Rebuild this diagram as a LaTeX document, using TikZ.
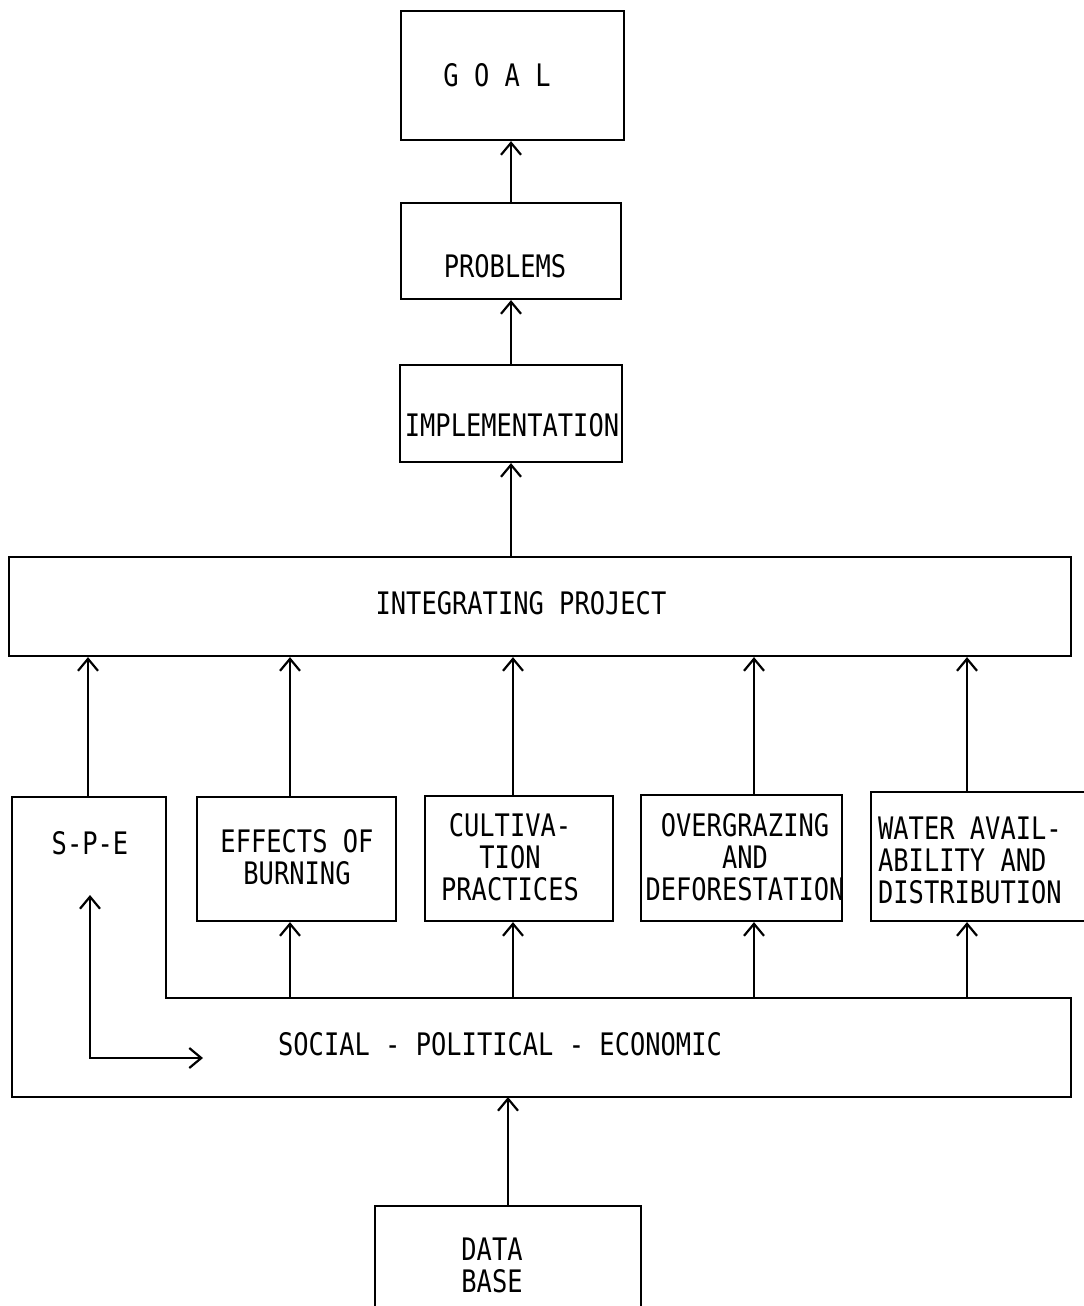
\documentclass[tikz,border=0pt]{standalone}
\usepackage{fontspec}
\usetikzlibrary{arrows.meta,calc}
\newfontfamily\diagfont[FakeStretch=0.82]{DejaVu Sans Mono}
\begin{document}
\begin{tikzpicture}[x=0.5pt,y=-0.5pt,
  box/.style={draw, line width=1.1pt, inner sep=0pt},
  txt/.style={font=\diagfont\fontsize{15.5pt}{16pt}\selectfont, inner sep=0pt, align=center},
  arr/.style={line width=1.1pt, -{Straight Barb[length=6pt,width=10pt,line width=1.1pt]}},
  line width=1.1pt]
\useasboundingbox[fill=white] (0,0) rectangle (1083,1306);
% top chain
\node[box, minimum width=111.5pt, minimum height=64.5pt] (goal) at (512.5,75.5) {};
\node[txt] (goalt) at (497,75) {G O A L};
\node[box, minimum width=110pt, minimum height=48pt] (prob) at (511,251) {};
\node[txt] (probt) at (505,266) {PROBLEMS};
\node[box, minimum width=111pt, minimum height=48.5pt] (impl) at (511,413.5) {};
\node[txt] (implt) at (512,425) {IMPLEMENTATION};
\node[box, minimum width=531pt, minimum height=49.5pt] (integ) at (540,606.5) {};
\node[txt] (integt) at (521,603) {INTEGRATING PROJECT};
% middle boxes
\node[box, minimum width=99.5pt, minimum height=62pt] (burn) at (296.5,859) {};
\node[txt] (burnt) at (297,857) {EFFECTS OF\\BURNING};
\node[box, minimum width=94pt, minimum height=62.5pt] (cult) at (519,858.5) {};
\node[txt] (cultt) at (510,857) {CULTIVA-\\TION\\PRACTICES};
\node[box, minimum width=100.5pt, minimum height=63pt] (over) at (741.5,858) {};
\node[txt] (overt) at (745,857) {OVERGRAZING\\AND\\DEFORESTATION};
\node[box, minimum width=110pt, minimum height=64.5pt] (water) at (981,856.5) {};
\node[txt, align=left, anchor=west] (watert) at (877,860) {WATER AVAIL-\\ABILITY AND\\DISTRIBUTION};
% L-shaped social-political-economic box
\draw (12,797) -- (166,797) -- (166,998) -- (1071,998) -- (1071,1097) -- (12,1097) -- cycle;
\coordinate (speTop) at (88,797);
\coordinate (socTop) at (540,998);
\coordinate (socBot) at (540,1097);
\node[txt] (spe) at (90,843) {S-P-E};
\node[txt] (social) at (500,1044) {SOCIAL - POLITICAL - ECONOMIC};
\coordinate (lup) at (90,895);
\coordinate (lright) at (203,1058);
\draw[{Straight Barb[length=6pt,width=10pt,line width=1.1pt]}-{Straight Barb[length=6pt,width=10pt,line width=1.1pt]}] (lup) |- (lright);
% data base
\node[box, minimum width=133pt, minimum height=53pt] (db) at (508,1259) {};
\node[txt] (dbt) at (492,1265) {DATA\\BASE};
% connectors
\draw[arr] (prob.north) -- (goal.south -| prob.north);
\draw[arr] (impl.north) -- (prob.south -| impl.north);
\draw[arr] (integ.north -| impl.south) -- (impl.south);
\draw[arr] (speTop) -- (speTop |- integ.south);
\draw[arr] ([xshift=-3.25pt]burn.north) -- ([xshift=-3.25pt]burn.north |- integ.south);
\draw[arr] ([xshift=-3pt]cult.north) -- ([xshift=-3pt]cult.north |- integ.south);
\draw[arr] ([xshift=6.25pt]over.north) -- ([xshift=6.25pt]over.north |- integ.south);
\draw[arr] ([xshift=-7pt]water.north) -- ([xshift=-7pt]water.north |- integ.south);
\draw[arr] ([xshift=-3.25pt]burn.south |- socTop) -- ([xshift=-3.25pt]burn.south);
\draw[arr] ([xshift=-3pt]cult.south |- socTop) -- ([xshift=-3pt]cult.south);
\draw[arr] ([xshift=6.25pt]over.south |- socTop) -- ([xshift=6.25pt]over.south);
\draw[arr] ([xshift=-7pt]water.south |- socTop) -- ([xshift=-7pt]water.south);
\draw[arr] (db.north) -- (db.north |- socBot);
\end{tikzpicture}
\end{document}
